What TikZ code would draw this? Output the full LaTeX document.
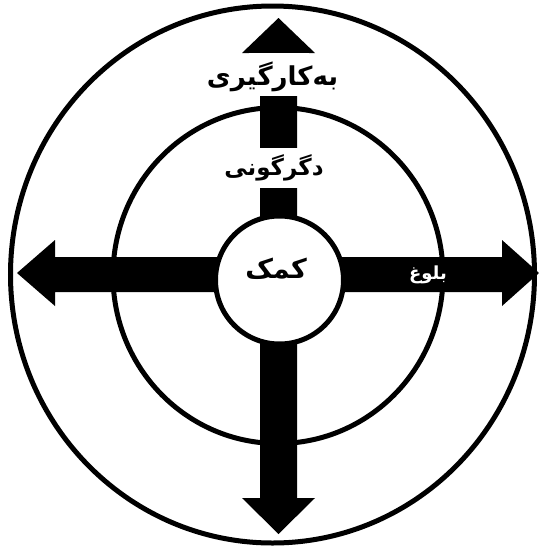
\documentclass[tikz,border=0pt]{standalone}
\usepackage{fontspec}
\TeXXeTstate=1
\newfontfamily\arabicfont[Script=Arabic]{DejaVu Sans}
\begin{document}
\begin{tikzpicture}[x=1pt,y=-1pt,
  ring/.style={draw=black,line width=5pt},
  arrowshape/.style={fill=black,draw=none},
  lbl/.style={font=\arabicfont\bfseries\fontsize{24}{28}\selectfont,text=black,inner sep=0pt},
  lblbox/.style={fill=white,minimum width=40pt,inner sep=0pt}]
\useasboundingbox (0,0) rectangle (543,550);
% circles
\coordinate (O) at (272.5,274.5);
\coordinate (M) at (278,275.5);
\coordinate (I) at (279.5,280);
\draw[ring] (O) ellipse [x radius=262, y radius=268.5];
\draw[ring] (M) ellipse [x radius=165, y radius=168];
% vertical double arrow
\fill[arrowshape] (260,275) -- (260,53) -- (242,53) -- (278.5,18) -- (315,53) -- (297,53)
  -- (297,498) -- (315,498) -- (278.5,534) -- (242,498) -- (260,498) -- cycle;
% horizontal double arrow
\fill[arrowshape] (55,257) -- (55,240) -- (17,273) -- (55,306) -- (55,292) -- (502,292)
  -- (502,306) -- (539,273) -- (502,240) -- (502,257) -- cycle;
% inner circle
\draw[ring,fill=white] (I) circle [radius=64];
% labels
\node[lblbox,minimum width=60pt,minimum height=43pt] (b1) at (278.5,74.5) {};
\node[lbl,font=\arabicfont\bfseries\fontsize{26}{30}\selectfont] (t1) at (272.5,77) {\beginR بەکارگیری\endR};
\node[lblbox,minimum width=60pt,minimum height=40pt] (b2) at (278.5,168) {};
\node[lbl,font=\arabicfont\bfseries\fontsize{23}{27}\selectfont] (t2) at (274,168) {\beginR دگرگونی\endR};
\node[lbl,font=\arabicfont\bfseries\fontsize{27}{31}\selectfont] (t3) at (276,269) {\beginR کمک\endR};
\node[lbl,text=white,font=\arabicfont\bfseries\fontsize{18}{21}\selectfont] (t4) at (428,275) {\beginR بلوغ\endR};
\end{tikzpicture}
\end{document}
